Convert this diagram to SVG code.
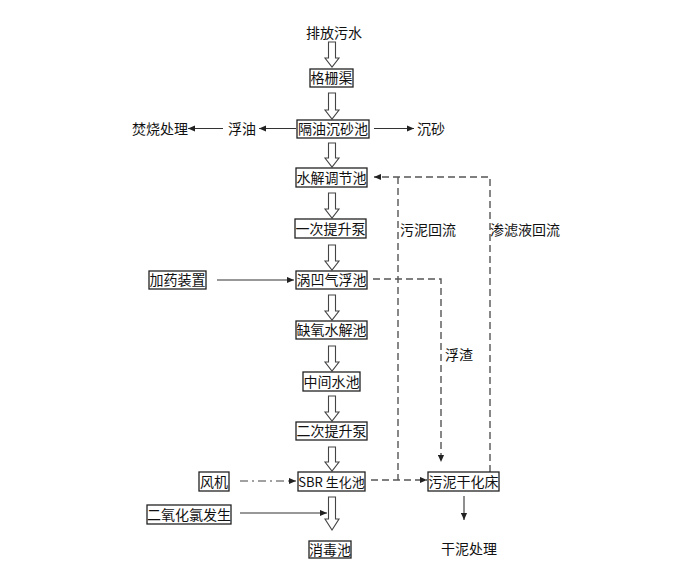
<svg xmlns="http://www.w3.org/2000/svg" width="694" height="587" viewBox="0 0 694 587">
<defs>
<style>
text{font-family:"Noto Sans CJK SC","Noto Sans",sans-serif;font-size:14px;fill:#111;text-anchor:middle}
.box{fill:#fff;stroke:#222;stroke-width:1.3}
.ln{fill:none;stroke:#333;stroke-width:1.1}
.dash{fill:none;stroke:#555;stroke-width:1.4;stroke-dasharray:7 4}
.dd{fill:none;stroke:#444;stroke-width:1.1;stroke-dasharray:8 4 2 4}
.ha{fill:#fff;stroke:#444;stroke-width:1.1}
</style>
<marker id="ah" viewBox="0 0 8 8" refX="8" refY="4" markerWidth="7" markerHeight="7" markerUnits="userSpaceOnUse" orient="auto">
<path d="M0,0.5 L8,4 L0,7.5 z" fill="#222"/>
</marker>
</defs>
<rect width="694" height="587" fill="#fff"/>

<g id="connectors">
<!-- hollow arrows -->
<g id="hollow">
<path class="ha" d="M328.5,42 H335.5 V58 H339 L332,67 L325,58 H328.5 Z"/>
<path class="ha" d="M328.5,93 H335.5 V110 H339 L332,119 L325,110 H328.5 Z"/>
<path class="ha" d="M328.5,143 H335.5 V158 H339 L332,167 L325,158 H328.5 Z"/>
<path class="ha" d="M328.5,193 H335.5 V209 H339 L332,218 L325,209 H328.5 Z"/>
<path class="ha" d="M328.5,245 H335.5 V261 H339 L332,270 L325,261 H328.5 Z"/>
<path class="ha" d="M328.5,295 H335.5 V311 H339 L332,320 L325,311 H328.5 Z"/>
<path class="ha" d="M328.5,346 H335.5 V362 H339 L332,371 L325,362 H328.5 Z"/>
<path class="ha" d="M328.5,396 H335.5 V412 H339 L332,421 L325,412 H328.5 Z"/>
<path class="ha" d="M328.5,447 H335.5 V462 H339 L332,471 L325,462 H328.5 Z"/>
<path class="ha" d="M328.5,497 H335.5 V519 H339 L332,530 L325,519 H328.5 Z"/>
</g>
<!-- solid arrows -->
<path class="ln" d="M296,128.5 H259" marker-end="url(#ah)"/>
<path class="ln" d="M223,128.5 H188" marker-end="url(#ah)"/>
<path class="ln" d="M374,128.5 H414" marker-end="url(#ah)"/>
<path class="ln" d="M217,280 H294" marker-end="url(#ah)"/>
<path class="ln" d="M240,513 H327" marker-end="url(#ah)"/>
<path class="ln" d="M464,496 V520" marker-end="url(#ah)"/>
<!-- dashed -->
<path class="dash" d="M490,472 V177 H374" marker-end="url(#ah)"/>
<path class="dash" d="M398,177 V480"/>
<path class="dash" d="M371,480 H427" marker-end="url(#ah)"/>
<path class="dash" d="M373,279 H441 V462" marker-end="url(#ah)"/>
<path class="dd" d="M240,481 H296" marker-end="url(#ah)"/>
</g>

<g id="n-source"><text x="334" y="38">排放污水</text></g>
<g id="n-gezha"><rect class="box" x="310" y="69" width="43" height="18"/><text x="331.5" y="83">格栅渠</text></g>
<g id="n-geyou"><rect class="box" x="297" y="120" width="72" height="18"/><text x="333" y="134">隔油沉砂池</text></g>
<g id="n-fuyou"><text x="242" y="134">浮油</text></g>
<g id="n-fenshao"><text x="160" y="134">焚烧处理</text></g>
<g id="n-chensha"><text x="431" y="134">沉砂</text></g>
<g id="n-tiaojie"><rect class="box" x="296" y="168" width="71" height="19"/><text x="331.5" y="182.5">水解调节池</text></g>
<g id="n-beng1"><rect class="box" x="295" y="219" width="71" height="19"/><text x="330.5" y="233.5">一次提升泵</text></g>
<g id="n-qifu"><rect class="box" x="296" y="271" width="71" height="18"/><text x="331.5" y="285">涡凹气浮池</text></g>
<g id="n-jiayao"><rect class="box" x="149" y="271" width="57" height="18"/><text x="177.5" y="285">加药装置</text></g>
<g id="n-queyang"><rect class="box" x="296" y="321" width="71" height="18"/><text x="331.5" y="335">缺氧水解池</text></g>
<g id="n-zhongjian"><rect class="box" x="303" y="372" width="57" height="19"/><text x="331.5" y="386.5">中间水池</text></g>
<g id="n-beng2"><rect class="box" x="296" y="422" width="71" height="18"/><text x="331.5" y="436">二次提升泵</text></g>
<g id="n-sbr"><rect class="box" x="298" y="472" width="67" height="19"/><text x="331.5" y="486.5" style="font-size:13px">SBR 生化池</text></g>
<g id="n-fengji"><rect class="box" x="199" y="472" width="30" height="19"/><text x="214" y="486.5">风机</text></g>
<g id="n-clo2"><rect class="box" x="147" y="505" width="84" height="19"/><text x="189" y="519.5">二氧化氯发生</text></g>
<g id="n-xiaodu"><rect class="box" x="309" y="541" width="42" height="17"/><text x="330" y="554.5">消毒池</text></g>
<g id="n-ganhua"><rect class="box" x="428" y="472" width="71" height="19"/><text x="463.5" y="486.5">污泥干化床</text></g>
<g id="n-ganni"><text x="469" y="554">干泥处理</text></g>

<g id="labels">
<text x="428" y="235">污泥回流</text>
<text x="525" y="235">渗滤液回流</text>
<text x="459" y="360">浮渣</text>
</g>
</svg>
